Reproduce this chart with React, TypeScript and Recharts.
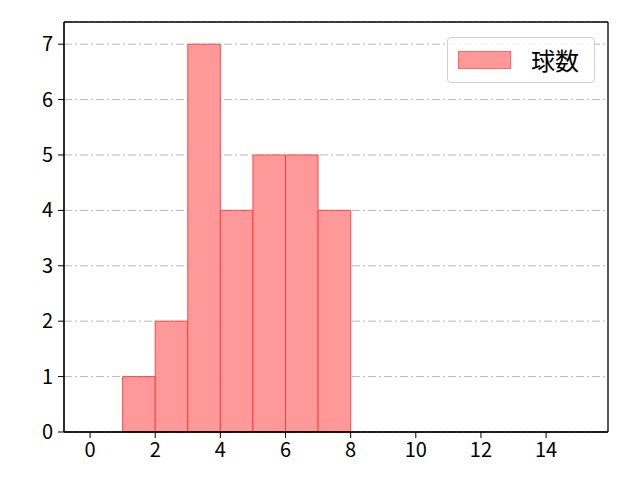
import React from 'react';
import {
  ComposedChart,
  Line,
  XAxis,
  YAxis,
  CartesianGrid,
  ReferenceArea,
  ReferenceLine
} from 'recharts';

document.body.style.margin = '0';

// histogram bins: left edge, right edge, count
const binStarts = [1, 2, 3, 4, 5, 6, 7];
const binEnds = [2, 3, 4, 5, 6, 7, 8];
const counts = [1, 2, 7, 4, 5, 5, 4];

const xTicks = [0, 2, 4, 6, 8, 10, 12, 14];
const yTicks = [0, 1, 2, 3, 4, 5, 6, 7];
const xDomain = [-0.8, 15.9];
const yDomain = [0, 7.4];

const seriesName = '球数';

const FONT = '"Noto Sans CJK JP", "DejaVu Sans", sans-serif';

const data = binStarts.map((s, i) => ({
  mid: (s + binEnds[i]) / 2,
  count: counts[i]
}));

const LegendBox = () => (
  <div
    style={{
      position: 'absolute',
      left: 447,
      top: 37,
      border: '1px solid #d0d0d0',
      borderRadius: 4,
      background: 'rgba(255,255,255,0.8)',
      width: 148,
      height: 46,
      display: 'flex',
      alignItems: 'center',
      boxSizing: 'border-box',
      fontFamily: FONT
    }}
  >
    <span
      style={{
        display: 'inline-block',
        width: 53,
        height: 18,
        marginLeft: 10,
        background: '#ff9999',
        border: '1px solid #ff6666',
        boxSizing: 'border-box'
      }}
    />
    <span style={{ marginLeft: 20, fontSize: 24, lineHeight: '24px', color: '#000' }}>{seriesName}</span>
  </div>
);

const App: React.FC = () => {
  return (
    <div style={{ position: 'relative', width: 640, height: 480, background: '#fff' }}>
      <ComposedChart
        width={640}
        height={480}
        data={data}
        margin={{ top: 22, right: 32, left: 0, bottom: 0 }}
      >
        <CartesianGrid
          horizontal={true}
          vertical={false}
          stroke="#b0b0b0"
          strokeDasharray="8 3 2 3"
          strokeWidth={0.9}
        />
        <XAxis
          type="number"
          dataKey="mid"
          domain={xDomain}
          ticks={xTicks}
          allowDataOverflow
          height={48}
          stroke="#000"
          tickSize={6}
          fontSize={20}
          fontFamily={FONT}
          tick={{ fill: '#000', fontSize: 20, fontFamily: FONT }}
          tickMargin={5}
          interval={0}
        />
        <YAxis
          type="number"
          domain={yDomain}
          ticks={yTicks}
          allowDataOverflow
          width={64}
          stroke="#000"
          tickSize={6}
          fontSize={20}
          fontFamily={FONT}
          tick={{ fill: '#000', fontSize: 20, fontFamily: FONT }}
          tickMargin={5}
          interval={0}
        />
        {binStarts.map((s, i) => (
          <ReferenceArea
            key={`bin-${i}`}
            x1={s}
            x2={binEnds[i]}
            y1={0}
            y2={counts[i]}
            fill="#ff9999"
            fillOpacity={1}
            stroke="#ff3333"
            strokeOpacity={0.85}
            strokeWidth={1}
          />
        ))}
        <Line
          dataKey="count"
          stroke="none"
          dot={false}
          activeDot={false}
          isAnimationActive={false}
          legendType="none"
        />
        <ReferenceLine x={xDomain[1]} stroke="#000" strokeWidth={1.3} />
        <ReferenceLine y={yDomain[1]} stroke="#000" strokeWidth={1.3} />
        <ReferenceLine x={xDomain[0]} stroke="#000" strokeWidth={1.3} />
        <ReferenceLine y={yDomain[0]} stroke="#000" strokeWidth={1.3} />
      </ComposedChart>
      <LegendBox />
    </div>
  );
};

export default App;
